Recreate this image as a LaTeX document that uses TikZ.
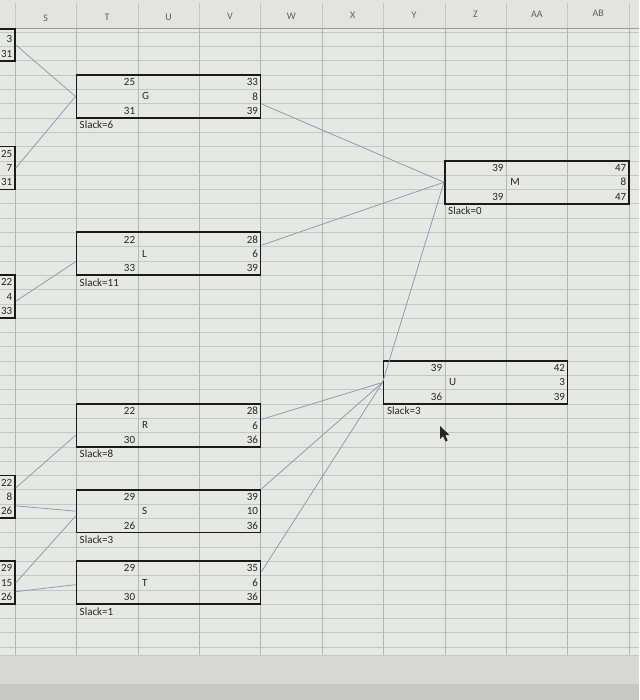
\documentclass[tikz,border=0pt]{standalone}
\usepackage{fontspec}
\setmainfont{Carlito}
\usetikzlibrary{calc}
\definecolor{cellbg}{HTML}{E6E8E4}
\definecolor{gridc}{HTML}{C4C8C4}
\definecolor{vgridc}{HTML}{B4B8B4}
\definecolor{headbg}{HTML}{E3E4E1}
\definecolor{headtxt}{HTML}{5E5E5E}
\definecolor{txt}{HTML}{262626}
\definecolor{linkc}{HTML}{8A98B2}
\definecolor{boxc}{HTML}{1A1A1A}
\definecolor{lowgray}{HTML}{D7D7D5}
\definecolor{lowgray2}{HTML}{C7C7C5}
\newcommand\mycellfont{\fontsize{11}{12}\selectfont}
\newcommand\myheadfont{\fontsize{10}{11}\selectfont}
\tikzset{
  actbox/.style={draw=boxc, line width=1.7pt, rectangle, inner sep=0pt,
    minimum width=184.2pt, minimum height=42.9pt},
  sidebox/.style={draw=boxc, line width=1.7pt, rectangle, inner sep=0pt,
    minimum width=25pt, minimum height=42.9pt},
  rnum/.style={anchor=east, inner sep=0pt, text=txt, font=\mycellfont},
  lnum/.style={anchor=west, inner sep=0pt, text=txt, font=\mycellfont},
  head/.style={inner sep=0pt, text=headtxt, font=\myheadfont},
  link/.style={draw=linkc, line width=0.75pt},
}
\newcommand\drawact[9]{%
  \pgfmathsetmacro\bxx{#2}%
  \pgfmathsetmacro\byy{32.1+14.3*#3}%
  \node[actbox] (#1) at (\bxx+92.1,\byy+21.45) {};
  \node[rnum] (#1-a) at (\bxx+58.9,\byy+7.15) {#4};
  \node[lnum] (#1-b) at (\bxx+65.4,\byy+21.45) {#5};
  \node[rnum] (#1-c) at (\bxx+58.9,\byy+35.75) {#6};
  \node[rnum] (#1-d) at (\bxx+181.7,\byy+7.15) {#7};
  \node[rnum] (#1-e) at (\bxx+181.7,\byy+21.45) {#8};
  \node[rnum] (#1-f) at (\bxx+181.7,\byy+35.75) {#9};
}
\begin{document}
\begin{tikzpicture}[x=1pt,y=-1pt]
\useasboundingbox (0,0) rectangle (639,700);
\clip (0,0) rectangle (639,700);
% background
\fill[cellbg] (0,0) rectangle (639,655);
\fill[lowgray] (0,655) rectangle (639,684);
\fill[lowgray2] (0,684) rectangle (639,700);
% grid
\foreach \k in {0,...,43} \draw[gridc, line width=0.5pt] (0,32.1+14.3*\k) -- (639,32.1+14.3*\k);
\draw[gridc, line width=0.6pt] (0,655) -- (639,655);
\foreach \j in {0,...,10} \draw[vgridc, line width=0.6pt] (15+61.4*\j,28) -- (15+61.4*\j,655);
% header
\fill[headbg] (0,0) rectangle (639,28);
\foreach \j in {0,...,10} \draw[gridc, line width=0.5pt] (15+61.4*\j,3) -- (15+61.4*\j,28);
\draw[vgridc!85!black, line width=0.7pt] (0,28) -- (639,28);
\node[head] (hS) at (45.7,18) {S};
\node[head] (hT) at (107.1,17.5) {T};
\node[head] (hU) at (168.5,17) {U};
\node[head] (hV) at (229.9,16.5) {V};
\node[head] (hW) at (291.3,16) {W};
\node[head] (hX) at (352.7,15.5) {X};
\node[head] (hY) at (414.1,15) {Y};
\node[head] (hZ) at (475.5,14.5) {Z};
\node[head] (hAA) at (536.9,14) {AA};
\node[head] (hAB) at (598.3,13) {AB};
% activity boxes
\drawact{nG}{76.4}{3}{25}{G}{31}{33}{8}{39}
\node[lnum] (sG) at (79.5,125.05) {Slack=6};
\drawact{nL}{76.4}{14}{22}{L}{33}{28}{6}{39}
\node[lnum] (sL) at (79.5,282.35) {Slack=11};
\drawact{nM}{444.8}{9}{39}{M}{39}{47}{8}{47}
\node[lnum] (sM) at (448,210.85) {Slack=0};
\drawact{nU}{383.4}{23}{39}{U}{36}{42}{3}{39}
\node[lnum] (sU) at (386.9,411.05) {Slack=3};
\drawact{nR}{76.4}{26}{22}{R}{30}{28}{6}{36}
\node[lnum] (sR) at (79.5,453.95) {Slack=8};
\drawact{nS}{76.4}{32}{29}{S}{26}{39}{10}{36}
\node[lnum] (sS) at (79.5,539.75) {Slack=3};
\drawact{nT}{76.4}{37}{29}{T}{30}{35}{6}{36}
\node[lnum] (sT) at (79.5,611.25) {Slack=1};
% partial boxes at left edge
\node[sidebox, minimum height=31.4pt] (A1) at (2.5,45) {};
\node[rnum] (A1-a) at (12.5,39.25) {3};
\node[rnum] (A1-b) at (12.5,53.55) {31};
\node[sidebox] (A2) at (2.5,167.95) {};
\node[rnum] (A2-a) at (12.5,153.65) {25};
\node[rnum] (A2-b) at (12.5,167.95) {7};
\node[rnum] (A2-c) at (12.5,182.25) {31};
\node[sidebox] (A3) at (2.5,296.65) {};
\node[rnum] (A3-a) at (12.5,282.35) {22};
\node[rnum] (A3-b) at (12.5,296.65) {4};
\node[rnum] (A3-c) at (12.5,310.95) {33};
\node[sidebox] (A4) at (2.5,496.85) {};
\node[rnum] (A4-a) at (12.5,482.55) {22};
\node[rnum] (A4-b) at (12.5,496.85) {8};
\node[rnum] (A4-c) at (12.5,511.15) {26};
\node[sidebox] (A5) at (2.5,582.65) {};
\node[rnum] (A5-a) at (12.5,568.35) {29};
\node[rnum] (A5-b) at (12.5,582.65) {15};
\node[rnum] (A5-c) at (12.5,596.95) {26};
% connectors
\draw[link] (A1.east) -- (nG.west);
\draw[link] (A2.east) -- (nG.west);
\draw[link] ([yshift=-7.5pt]nG.east) -- (nM.west);
\draw[link] ([yshift=8.5pt]nL.east) -- (nM.west);
\draw[link] ([yshift=-4.5pt]A3.east) -- ([yshift=-8pt]nL.west);
\draw[link] (nU.west) -- (nM.west);
\draw[link] ([yshift=6pt]nR.east) -- (nU.west);
\draw[link] (nS.north east) -- (nU.west);
\draw[link] ([yshift=11pt]nT.east) -- (nU.west);
\draw[link] ([yshift=9pt]A4.east) -- ([yshift=-10pt]nR.west);
\draw[link] ([yshift=-9pt]A4.east) -- (nS.west);
\draw[link] (A5.east) -- ([yshift=-5pt]nS.west);
\draw[link] ([yshift=-9pt]A5.east) -- ([yshift=-2pt]nT.west);
% mouse pointer
\fill[black!85] (440,426) -- ++(0,13) -- ++(3,-3) -- ++(2.5,5.5) -- ++(2.2,-1) -- ++(-2.4,-5.3) -- ++(4.3,0) -- cycle;
\end{tikzpicture}
\end{document}
